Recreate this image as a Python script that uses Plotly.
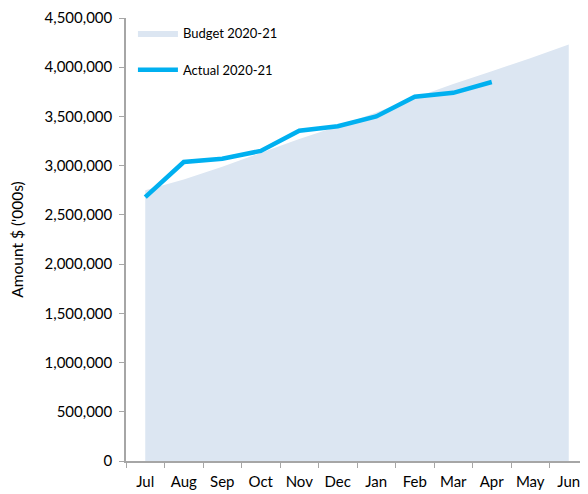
import plotly.graph_objects as go

months = ["Jul", "Aug", "Sep", "Oct", "Nov", "Dec", "Jan", "Feb", "Mar", "Apr", "May", "Jun"]
budget = [2750000, 2860000, 2990000, 3130000, 3270000, 3400000, 3540000, 3690000, 3830000, 3960000, 4090000, 4230000]
actual_months = ["Jul", "Aug", "Sep", "Oct", "Nov", "Dec", "Jan", "Feb", "Mar", "Apr"]
actual = [2680000, 3037000, 3070000, 3150000, 3355000, 3400000, 3500000, 3700000, 3740000, 3850000]
y_ticks = [0, 500000, 1000000, 1500000, 2000000, 2500000, 3000000, 3500000, 4000000, 4500000]

font = "Lato, 'Open Sans', sans-serif"

fig = go.Figure()
fig.add_trace(go.Scatter(
    x=months, y=budget, name="Budget 2020-21", mode="lines",
    fill="tozeroy", fillcolor="#dce6f2", line=dict(width=0, color="#dce6f2"),
    legendgroup="b",
))
fig.add_trace(go.Scatter(
    x=actual_months, y=actual, name="Actual 2020-21", mode="lines",
    line=dict(width=4.5, color="#00b0f0"),
    legendgroup="a",
))

# page body has an 8px default margin, so the figure is sized 8px smaller
fig.update_layout(
    width=580, height=486,
    margin=dict(l=118, r=0, t=10, b=33),
    paper_bgcolor="white", plot_bgcolor="white",
    font=dict(family=font, size=15, color="#000000"),
    showlegend=True,
    legend=dict(x=0.015, y=1.0, xanchor="left", yanchor="top",
                bgcolor="rgba(0,0,0,0)", font=dict(size=13, family=font),
                itemwidth=40, tracegroupgap=17, traceorder="grouped"),
    xaxis=dict(
        type="category", categoryorder="array", categoryarray=months,
        range=[-0.5, 11.5], showgrid=False,
        showline=True, linecolor="#a6a6a6", linewidth=1.5,
        ticks="outside", tickson="boundaries", ticklen=5, tickcolor="#a6a6a6",
        tickfont=dict(size=15), ticklabelstandoff=6, fixedrange=True,
    ),
    yaxis=dict(
        range=[0, 4500000], tickvals=y_ticks,
        tickformat=",d", showgrid=False, zeroline=False,
        showline=True, linecolor="#a6a6a6", linewidth=1.5,
        ticks="outside", ticklen=5, tickcolor="#a6a6a6",
        tickfont=dict(size=15), ticklabelstandoff=4,
        title=dict(text="Amount $ ('000s)", font=dict(size=15.5), standoff=20),
    ),
)

fig.write_html("out.html")
